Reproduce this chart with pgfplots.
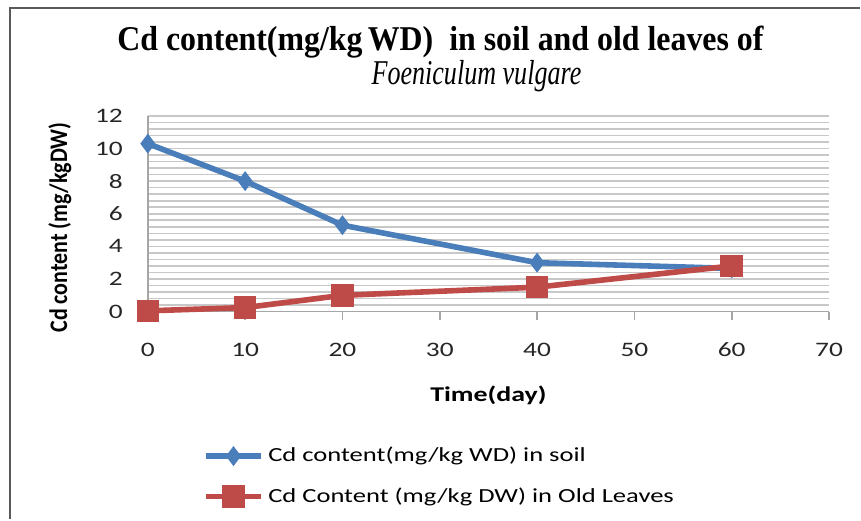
\documentclass[border=0pt]{standalone}
\usepackage{pgfplots}
\pgfplotsset{compat=1.18}
\usepackage{fontspec}
\setmainfont{Carlito}
\newfontfamily\titlefont{Liberation Serif}
\definecolor{soilblue}{HTML}{4A7EBB}
\definecolor{leafred}{HTML}{BE4B48}
\definecolor{gridgray}{HTML}{C8C8C8}
\newcommand{\wide}[1]{\scalebox{1.33}[1]{#1}}
\begin{document}
\begin{tikzpicture}[x=0.5pt,y=0.5pt]
\path (0,0) rectangle (861,520);
\draw[gray!70!black, line width=1pt] (10,0) -- (10,512) -- (861,512);
\node[font=\titlefont\bfseries\fontsize{14.5}{16}\selectfont] at (441,478) {\scalebox{1.1}[1.2]{Cd content(mg/kg\,WD)\ \ in soil and old leaves of}};
\node[font=\titlefont\itshape\fontsize{14.5}{16}\selectfont] at (477,444) {\scalebox{0.9}[1.2]{Foeniculum vulgare}};
\begin{axis}[
  at={(74pt,104pt)}, anchor=south west,
  scale only axis, width=341pt, height=98pt,
  xmin=0, xmax=70, ymin=0, ymax=12,
  xtick={0,10,...,70}, ytick={0,2,...,12},
  minor y tick num=4,
  axis lines*=left,
  axis line style={gray!70, line width=0.8pt},
  ymajorgrids, yminorgrids,
  major grid style={gridgray, line width=0.8pt},
  minor grid style={gridgray, line width=0.8pt},
  tick align=outside,
  major tick length=4pt,
  x tick style={gray!70, line width=0.8pt},
  y tick style={draw=none},
  minor y tick style={draw=none},
  tick label style={font=\fontsize{10.3}{12}\selectfont, text=black!85},
  xticklabel={\wide{\pgfmathprintnumber{\tick}}},
  yticklabel={\wide{\pgfmathprintnumber{\tick}}},
  /pgf/number format/assume math mode=true,
  yticklabel style={xshift=-5pt},
  xticklabel style={yshift=-8pt},
  xlabel={\wide{\bfseries Time(day)}},
  xlabel style={font=\fontsize{10.5}{12}\selectfont, yshift=-8pt},
  ylabel={\scalebox{1}[1.15]{\bfseries Cd content (mg/kgDW)}},
  ylabel style={font=\fontsize{11}{12}\selectfont, at={(ticklabel cs:0.43)}, yshift=5pt},
  legend style={at={(0.08,-0.65)}, anchor=north west, draw=none, fill=none,
    font=\fontsize{10}{12}\selectfont, row sep=7.5pt,
    legend cell align=left, inner xsep=0pt,
    /tikz/every even column/.append style={column sep=1pt}},
  legend image code/.code={
    \draw[#1, mark=none] (0pt,0pt) -- (28pt,0pt);
    \draw[#1, only marks] plot coordinates {(14pt,0pt)};
  },
  clip=false,
]
\addplot[soilblue, line width=2.8pt, mark=diamond*, mark size=4.6pt,
  mark options={solid, fill=soilblue, line width=0.5pt}]
  coordinates {(0,10.3) (10,8.0) (20,5.3) (40,3.0) (60,2.65)};
\addlegendentry{\wide{Cd content(mg/kg WD) in soil}}
\addplot[leafred, line width=2.8pt, mark=square*, mark size=5.4pt,
  mark options={solid, fill=leafred, line width=0.5pt}]
  coordinates {(0,0.05) (10,0.25) (20,1.0) (40,1.5) (60,2.8)};
\addlegendentry{\wide{Cd Content (mg/kg DW) in Old Leaves}}
\end{axis}
\end{tikzpicture}
\end{document}
